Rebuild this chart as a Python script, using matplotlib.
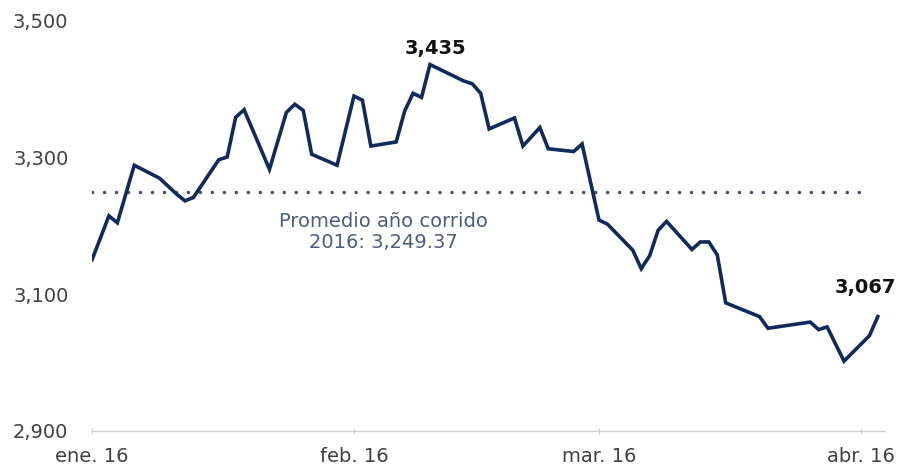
import pandas as pd
import matplotlib.pyplot as plt
import matplotlib.ticker as mticker

# ── Daten ────────────────────────────────────────────────────────────────────
fechas = ["2016-01-01", "2016-01-03", "2016-01-04", "2016-01-06", "2016-01-09",
          "2016-01-11", "2016-01-12", "2016-01-13", "2016-01-16", "2016-01-17",
          "2016-01-18", "2016-01-19", "2016-01-22", "2016-01-24", "2016-01-25",
          "2016-01-26", "2016-01-27", "2016-01-30", "2016-02-01", "2016-02-02",
          "2016-02-03", "2016-02-06", "2016-02-07", "2016-02-08", "2016-02-09",
          "2016-02-10", "2016-02-14", "2016-02-15", "2016-02-16", "2016-02-17",
          "2016-02-20", "2016-02-21", "2016-02-23", "2016-02-24", "2016-02-27",
          "2016-02-28", "2016-03-01", "2016-03-02", "2016-03-05", "2016-03-06",
          "2016-03-07", "2016-03-08", "2016-03-09", "2016-03-12", "2016-03-13",
          "2016-03-14", "2016-03-15", "2016-03-16", "2016-03-20", "2016-03-21",
          "2016-03-26", "2016-03-27", "2016-03-28", "2016-03-30", "2016-04-02",
          "2016-04-03"]
trm = [3150, 3214, 3204, 3288, 3269, 3246, 3236, 3241, 3296, 3300,
       3358, 3369, 3282, 3365, 3377, 3368, 3304, 3288, 3389, 3383,
       3316, 3322, 3367, 3393, 3387, 3435, 3411, 3407, 3393, 3341,
       3357, 3316, 3343, 3312, 3308, 3319, 3208, 3202, 3164, 3137,
       3156, 3193, 3206, 3165, 3176, 3176, 3157, 3087, 3067, 3050,
       3059, 3048, 3052, 3002, 3039, 3067]

promedio = 3249.37
promedio_rango = ["2016-01-01", "2016-04-02"]

tick_fechas = ["2016-01-01", "2016-02-01", "2016-03-01", "2016-04-01"]
tick_labels = ["ene. 16", "feb. 16", "mar. 16", "abr. 16"]

fechas = pd.to_datetime(fechas)
promedio_rango = pd.to_datetime(promedio_rango)
tick_fechas = pd.to_datetime(tick_fechas)

# ── Plot ─────────────────────────────────────────────────────────────────────
plt.rcParams["font.family"] = ["DejaVu Sans"]
fig = plt.figure(figsize=(9.03, 4.70), dpi=100)
ax = fig.add_axes([0.1019, 0.083, 0.878, 0.8744])

navy = "#0f2a5c"
ax.plot(fechas, trm, color=navy, lw=2.6, solid_joinstyle="miter", zorder=3)
ax.plot(promedio_rango, [promedio, promedio], color="#44546a", lw=2.5,
        linestyle=(0, (0.05, 3.4)), dash_capstyle="round", zorder=2)

ax.text(pd.Timestamp("2016-02-04 12:00"), 3220, "Promedio año corrido\n2016: 3,249.37",
        ha="center", va="top", fontsize=14, color="#4b5e80", linespacing=1.15)

i_max = trm.index(max(trm))
ax.annotate(f"{trm[i_max]:,}", (fechas[i_max], trm[i_max]), xytext=(4, 5),
            textcoords="offset points", ha="center", va="bottom",
            fontsize=14, fontweight="bold", color="#111111")
ax.annotate(f"{trm[-1]:,}", (fechas[-1], trm[-1]), xytext=(-9, 14),
            textcoords="offset points", ha="center", va="bottom",
            fontsize=14, fontweight="bold", color="#111111")

ax.set_ylim(2900, 3500)
ax.set_yticks([2900, 3100, 3300, 3500])
ax.yaxis.set_major_formatter(mticker.FuncFormatter(lambda v, p: f"{v:,.0f}"))
ax.set_xlim(pd.Timestamp("2016-01-01"), pd.Timestamp("2016-04-03 20:00"))
ax.set_xticks(tick_fechas)
ax.set_xticklabels(tick_labels)

for s in ["top", "right", "left"]:
    ax.spines[s].set_visible(False)
ax.spines["bottom"].set_color("#cfcfcf")
ax.spines["bottom"].set_linewidth(1.0)
ax.tick_params(axis="y", length=0, pad=17, labelsize=14, labelcolor="#404040")
ax.tick_params(axis="x", direction="inout", length=5, color="#cfcfcf",
               pad=9, labelsize=14, labelcolor="#404040")

plt.savefig("out.png", dpi=100)
plt.close()
